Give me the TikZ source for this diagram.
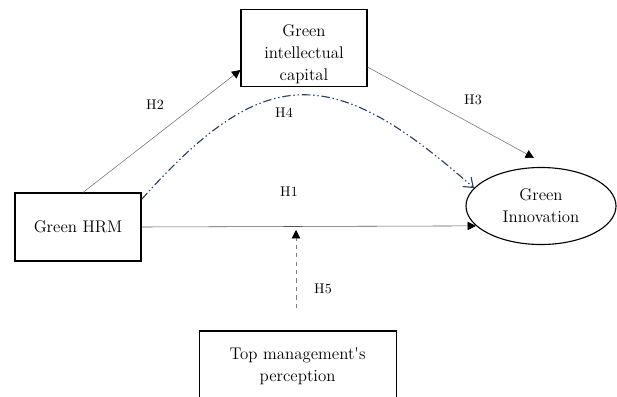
\documentclass[tikz,border=0pt]{standalone}
\usetikzlibrary{arrows.meta,shapes.geometric}
\definecolor{hblue}{RGB}{38,64,102}
\begin{document}
\begin{tikzpicture}[
	box/.style={draw, thick, align=center, font=\fontsize{12}{15.5}\selectfont, inner sep=2pt},
	link/.style={-{Triangle[length=6pt,width=6pt,black]}},
	hyp/.style={font=\normalsize}
	]
	   \useasboundingbox (0,0) rectangle (15.425,-9.9);
	   \node [box, minimum width=3.15cm, minimum height=1.85cm] (cap) at (7.6,-1.2) {\rule{0pt}{17pt}Green\\intellectual\\capital};
	   \node [box, minimum width=3.15cm, minimum height=1.7cm] (hrm) at (1.95,-5.675) {Green HRM};
	   \node [box, ellipse, minimum width=3.75cm, minimum height=1.925cm] (innov) at (13.525,-5.15) {Green\\Innovation};
	   \node [box, minimum width=4.925cm, minimum height=1.75cm] (top) at (7.44,-9.15) {Top management\textquotesingle s\\perception};
	   \coordinate (h3end) at (13.35,-3.95);
	   \coordinate (h5start) at (7.4,-7.7);
	   \coordinate (h5end) at (7.4,-5.75);
	   % the direct paths
	   \draw [link, draw=black!55] ([xshift=0.125cm]hrm.north) -- ([yshift=-0.55cm]cap.west);
	   \draw [link, draw=black!55] ([yshift=-0.475cm]cap.east) -- (h3end);
	   \draw [link, draw=black!65] (hrm.east) -- (innov.197);
	   \draw [link, draw=black!50, dashed] (h5start) -- (h5end);
	   % mediated path through intellectual capital
	   \draw [hblue, thick, dash pattern=on 6pt off 2pt on 1pt off 2pt on 1pt off 2pt, -{Straight Barb[length=6pt,width=9pt]}]
	   	([yshift=-0.175cm]hrm.north east) .. controls (6.6,-1.55) and (8.3,-1.55) .. (innov.165);
	   \node [hyp] (h1) at (7.225,-4.8) {H1};
	   \node [hyp] (h2) at (3.875,-2.625) {H2};
	   \node [hyp] (h3) at (11.825,-2.5) {H3};
	   \node [hyp] (h4) at (7.1,-2.825) {H4};
	   \node [hyp] (h5) at (8.075,-7.225) {H5};
	\end{tikzpicture}
\end{document}
